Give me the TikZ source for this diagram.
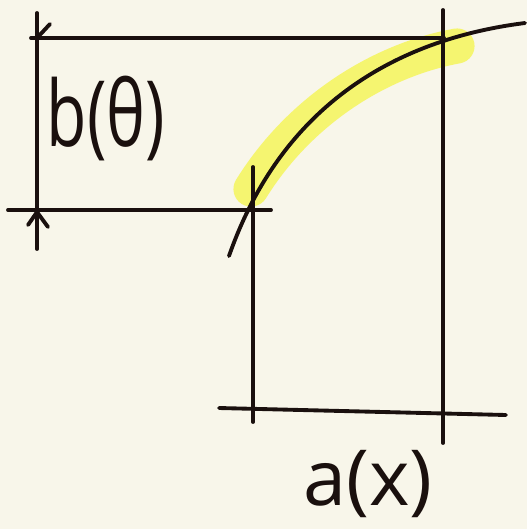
\documentclass[tikz,border=0pt]{standalone}
\usepackage{fontspec}
\setmainfont{Open Sans}
\usetikzlibrary{arrows.meta}
\definecolor{papier}{RGB}{248,246,234}
\definecolor{encre}{RGB}{26,16,14}
\definecolor{surligneur}{RGB}{245,245,112}

\begin{document}
\begin{tikzpicture}[x=0.02cm, y=-0.02cm,
  ink/.style={draw=encre, line width=2.2pt, line cap=round},
  marker/.style={draw=surligneur, line width=20pt, line cap=round,
    line join=round},
  lbl/.style={text=encre, inner sep=0pt},
]
\fill[papier] (0,0) rectangle (527,529);
\useasboundingbox (0,0) rectangle (527,529);

% surligneur
\draw[marker] (251,189) .. controls (300,110) and (380,60) .. (457,46);

% cotes
\draw[ink] (37,13) -- (37,249);
\draw[ink] (31,38) -- (444,38);
\draw[ink] (8,210) -- (271,210);
\draw[ink] (253,167) -- (253,422);
\draw[ink] (443,10) -- (443,443);
\draw[ink] (219,408) -- (506,415);
\draw[ink] (37,38) -- (50,24);
\draw[ink, line join=round] (28,225) -- (37,212) -- (48,227);

% courbe
\draw[ink] (229,256) .. controls (280,110) and (390,40) .. (525,23);

\node[lbl, font=\fontsize{52}{60}\selectfont, xscale=0.72] (btheta)
  at (106,118) {b(θ)};
\node[lbl, font=\fontsize{44}{52}\selectfont] (ax) at (368,484) {a(x)};
\end{tikzpicture}
\end{document}
